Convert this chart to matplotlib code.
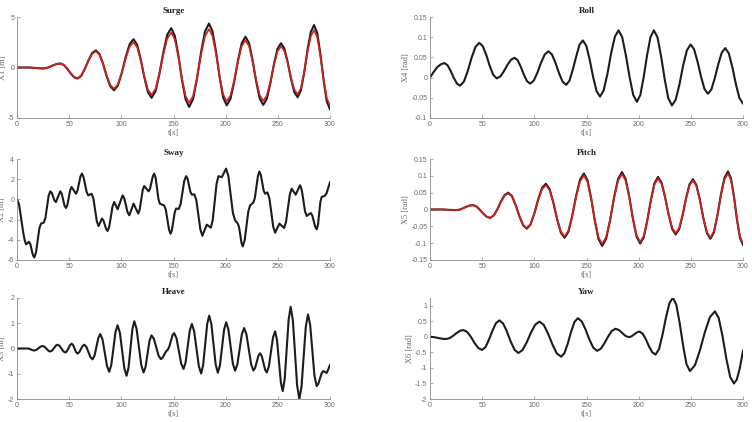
import numpy as np
import matplotlib
matplotlib.use('Agg')
import matplotlib.pyplot as plt

# time axis ticks (same on every panel)
t_ticks = [0, 50, 100, 150, 200, 250, 300]

# Surge: black = model, red = second model
surge_t = [0, 6, 12, 18.5, 25, 28.3, 31.6, 34.9, 38.2, 41.5, 44.8, 48.1, 51.4, 54.7, 58, 61.5, 65.0, 68.6, 72.1,
           75.6, 79.1, 82.6, 86.0, 89.5, 93, 96.7, 100.5, 104.2, 108.0, 111.7, 115.2, 118.6, 122.1, 125.5, 129,
           132.8, 136.5, 140.3, 144.0, 147.8, 151.2, 154.7, 158.1, 161.6, 165, 168.8, 172.6, 176.4, 180.2, 184,
           187.4, 190.8, 194.2, 197.6, 201, 204.6, 208.2, 211.8, 215.4, 219, 222.4, 225.8, 229.2, 232.6, 236,
           239.4, 242.8, 246.2, 249.6, 253, 256.2, 259.4, 262.6, 265.8, 269, 272.1, 275.3, 278.4, 281.6, 284.7,
           287.8, 290.8, 293.9, 296.9, 300]
surge_black = [0, 0, 0, -0.05, -0.1, -0.052, 0.073, 0.227, 0.352, 0.4, 0.257, -0.118, -0.582, -0.957, -1.1,
               -0.833, -0.133, 0.733, 1.433, 1.7, 1.323, 0.335, -0.885, -1.873, -2.25, -1.768, -0.505, 1.055,
               2.318, 2.8, 2.246, 0.796, -0.996, -2.446, -3.0, -2.341, -0.616, 1.516, 3.241, 3.9, 3.155, 1.205,
               -1.205, -3.155, -3.9, -3.112, -1.05, 1.5, 3.562, 4.35, 3.576, 1.551, -0.951, -2.976, -3.75,
               -3.101, -1.401, 0.701, 2.401, 3.05, 2.405, 0.718, -1.368, -3.055, -3.7, -3.117, -1.592, 0.292,
               1.817, 2.4, 1.889, 0.552, -1.102, -2.439, -2.95, -2.267, -0.48, 1.73, 3.517, 4.2, 3.403, 1.315,
               -1.265, -3.353, -4.15]
surge_red = [0, 0, 0, -0.05, -0.1, -0.052, 0.073, 0.227, 0.352, 0.4, 0.262, -0.101, -0.549, -0.912, -1.05,
             -0.797, -0.134, 0.684, 1.347, 1.6, 1.247, 0.322, -0.822, -1.747, -2.1, -1.661, -0.511, 0.911,
             2.061, 2.5, 2.003, 0.703, -0.903, -2.203, -2.7, -2.113, -0.575, 1.325, 2.863, 3.45, 2.786, 1.049,
             -1.099, -2.836, -3.5, -2.803, -0.978, 1.278, 3.103, 3.8, 3.117, 1.33, -0.88, -2.667, -3.35,
             -2.772, -1.26, 0.61, 2.122, 2.7, 2.127, 0.627, -1.227, -2.727, -3.3, -2.784, -1.434, 0.234,
             1.584, 2.1, 1.646, 0.459, -1.009, -2.196, -2.65, -2.044, -0.456, 1.506, 3.094, 3.7, 2.989, 1.126,
             -1.176, -3.039, -3.75]

# Pitch
pitch_t = [0, 6, 12, 18.5, 25, 28.2, 31.4, 34.6, 37.8, 41, 44.3, 47.6, 51.0, 54.3, 57.6, 61.1, 64.6, 68.0, 71.5,
           75, 78.6, 82.1, 85.7, 89.2, 92.8, 96.4, 100.1, 103.7, 107.4, 111, 114.6, 118.2, 121.8, 125.4, 129,
           132.7, 136.4, 140.1, 143.8, 147.5, 151.0, 154.5, 158.0, 161.5, 165, 168.8, 172.6, 176.4, 180.2, 184,
           187.5, 191.0, 194.5, 198.0, 201.5, 204.9, 208.3, 211.7, 215.1, 218.5, 221.9, 225.3, 228.7, 232.1,
           235.5, 238.8, 242.1, 245.4, 248.7, 252, 255.3, 258.7, 262.0, 265.4, 268.7, 272.1, 275.5, 278.8,
           282.2, 285.6, 288.5, 291.4, 294.2, 297.1, 300]
pitch_black = [0, 0, 0, -0.001, -0.002, -0.0006, 0.0032, 0.0078, 0.0116, 0.013, 0.0094, -0.0001, -0.0119,
               -0.0214, -0.025, -0.0178, 0.0009, 0.0241, 0.0428, 0.05, 0.0398, 0.013, -0.02, -0.0468, -0.057,
               -0.0443, -0.0109, 0.0304, 0.0638, 0.0765, 0.0612, 0.021, -0.0285, -0.0687, -0.084, -0.0658,
               -0.018, 0.041, 0.0888, 0.107, 0.0865, 0.0327, -0.0337, -0.0875, -0.108, -0.0871, -0.0323, 0.0353,
               0.0901, 0.111, 0.0908, 0.0378, -0.0278, -0.0808, -0.101, -0.0821, -0.0328, 0.0283, 0.0776,
               0.0965, 0.0802, 0.0376, -0.0151, -0.0577, -0.074, -0.0583, -0.0173, 0.0333, 0.0743, 0.09,
               0.0731, 0.0288, -0.0258, -0.0701, -0.087, -0.0679, -0.0179, 0.0439, 0.0939, 0.113, 0.0922,
               0.0377, -0.0297, -0.0842, -0.105]
pitch_red = [0, 0, 0, -0.001, -0.002, -0.0006, 0.0032, 0.0078, 0.0116, 0.013, 0.0094, -0.0001, -0.0119,
             -0.0214, -0.025, -0.018, 0.0002, 0.0228, 0.041, 0.048, 0.0382, 0.0124, -0.0194, -0.0452, -0.055,
             -0.0429, -0.0111, 0.0281, 0.0599, 0.072, 0.0575, 0.0195, -0.0275, -0.0655, -0.08, -0.0627,
             -0.0175, 0.0385, 0.0837, 0.101, 0.0816, 0.0309, -0.0319, -0.0826, -0.102, -0.0822, -0.0305,
             0.0335, 0.0852, 0.105, 0.0858, 0.0356, -0.0266, -0.0768, -0.096, -0.0781, -0.0312, 0.0267,
             0.0736, 0.0915, 0.0761, 0.0357, -0.0142, -0.0546, -0.07, -0.0551, -0.0161, 0.0321, 0.0711, 0.086,
             0.0699, 0.0276, -0.0246, -0.0669, -0.083, -0.0649, -0.0174, 0.0414, 0.0889, 0.107, 0.0872,
             0.0355, -0.0285, -0.0802, -0.1]

# Roll
roll_t = [0, 3.5, 7, 10.5, 13.8, 16.8, 19.8, 22.8, 25.8, 28.8, 32.5, 36.2, 39.9, 43.6, 47.3, 50.6, 54.0, 57.3,
          60.7, 64, 67.4, 70.8, 74.2, 77.6, 81, 84, 87, 90, 93, 96, 99.5, 103, 106.5, 110, 113.5, 116.9, 120.3,
          123.7, 127.1, 130.5, 133.7, 136.9, 140.1, 143.3, 146.5, 149.8, 153.1, 156.4, 159.7, 163, 166.5, 170.1,
          173.6, 177.2, 180.7, 184.2, 187.7, 191.3, 194.8, 198.3, 201.6, 204.8, 208.1, 211.3, 214.6, 218.1,
          221.5, 225.0, 228.4, 231.9, 235.5, 239.1, 242.6, 246.2, 249.8, 253.1, 256.4, 259.8, 263.1, 266.4,
          269.7, 273.0, 276.4, 279.7, 283, 286.4, 289.8, 293.2, 296.6, 300]
roll_x4 = [0, 0.014, 0.026, 0.033, 0.036, 0.0307, 0.0167, -0.0007, -0.0147, -0.02, -0.0099, 0.0166, 0.0494,
           0.0759, 0.086, 0.0776, 0.0556, 0.0284, 0.0064, -0.002, 0.0029, 0.0156, 0.0314, 0.0441, 0.049, 0.0429,
           0.0269, 0.0071, -0.0089, -0.015, -0.0074, 0.0126, 0.0374, 0.0574, 0.065, 0.0571, 0.0363, 0.0107,
           -0.0101, -0.018, -0.0075, 0.02, 0.052, 0.0815, 0.092, 0.0787, 0.044, 0.001, -0.0337, -0.047,
           -0.0313, 0.0097, 0.0603, 0.1013, 0.117, 0.1001, 0.0558, 0.0012, -0.0431, -0.06, -0.0431, 0.0012,
           0.0558, 0.1001, 0.117, 0.0992, 0.0527, -0.0047, -0.0512, -0.069, -0.0546, -0.0168, 0.0298, 0.0676,
           0.082, 0.0703, 0.0398, 0.0021, -0.0283, -0.04, -0.0292, -0.001, 0.034, 0.0622, 0.073, 0.0599,
           0.0257, -0.0167, -0.0509, -0.064]

# Yaw
yaw_t = [0, 3.1, 6.2, 9.2, 12.3, 15.4, 18.7, 22.0, 25.4, 28.7, 32, 35.6, 39.2, 42.7, 46.3, 49.9, 53.2, 56.5,
         59.9, 63.2, 66.5, 70.1, 73.8, 77.4, 81.1, 84.7, 88.7, 92.8, 96.8, 100.9, 104.9, 109.1, 113.2, 117.4,
         121.5, 125.7, 128.9, 132.1, 135.3, 138.5, 141.7, 145.4, 149.1, 152.8, 156.5, 160.2, 163.7, 167.2,
         170.8, 174.3, 177.8, 181.0, 184.2, 187.4, 190.6, 193.2, 195.7, 198.3, 200.8, 203.9, 207.0, 210.0,
         213.1, 216.2, 219.5, 222.8, 226.2, 229.5, 232.8, 236.1, 239.3, 242.6, 245.8, 249.1, 253.9, 258.7,
         263.5, 268.3, 273.1, 276.7, 280.4, 284.0, 287.7, 291.3, 294, 297, 300]
yaw_x6 = [0, -0.0067, -0.0242, -0.0458, -0.0633, -0.07, -0.0423, 0.0302, 0.1198, 0.1923, 0.22, 0.1589, -0.0011,
          -0.1989, -0.3589, -0.42, -0.3293, -0.0918, 0.2018, 0.4393, 0.53, 0.4297, 0.1672, -0.1572, -0.4197,
          -0.52, -0.4235, -0.171, 0.141, 0.3935, 0.49, 0.3821, 0.0996, -0.2496, -0.5321, -0.64, -0.5216,
          -0.2116, 0.1716, 0.4816, 0.6, 0.4997, 0.2372, -0.0872, -0.3497, -0.45, -0.3822, -0.2047, 0.0147,
          0.1922, 0.26, 0.2206, 0.125, 0.0294, -0.01, 0.0163, 0.08, 0.1437, 0.17, 0.0993, -0.0857, -0.3143,
          -0.4993, -0.57, -0.3952, 0.0623, 0.6277, 1.0852, 1.26, 1.0346, 0.4446, -0.2846, -0.8746, -1.1,
          -0.9166, -0.4366, 0.1566, 0.6366, 0.82, 0.6084, 0.0184, -0.6984, -1.2884, -1.5, -1.38, -1.0, -0.45]

# Heave
heave_t = [0, 5, 10, 11.7, 13.3, 15.0, 16.6, 18.6, 20.6, 22.6, 24.6, 26.4, 28.3, 30.1, 31.9, 33.7, 35.4, 37.2,
           38.9, 40.8, 42.6, 44.5, 46.3, 47.8, 49.4, 50.9, 52.4, 53.8, 55.2, 56.6, 58, 59.6, 61.3, 62.9, 64.5,
           66.5, 68.5, 70.4, 72.4, 74.3, 76.1, 78.0, 79.8, 82.0, 84.1, 86.3, 88.4, 90.4, 92.4, 94.4, 96.4, 98.6,
           100.7, 102.9, 105, 106.9, 108.7, 110.6, 112.4, 114.6, 116.9, 119.1, 121.3, 123.2, 125.1, 127.0,
           128.9, 131.2, 133.4, 135.7, 137.9, 139.6, 141.2, 142.9, 144.5, 146.0, 147.6, 149.1, 150.6, 152.9,
           155.1, 157.4, 159.6, 161.6, 163.6, 165.6, 167.6, 169.8, 172.1, 174.3, 176.5, 178.4, 180.4, 182.3,
           184.2, 186.3, 188.4, 190.4, 192.5, 194.5, 196.5, 198.5, 200.5, 202.6, 204.8, 206.9, 209, 211.2,
           213.4, 215.5, 217.7, 219.9, 222.2, 224.4, 226.6, 228.2, 229.8, 231.4, 233, 234.6, 236.2, 237.8,
           239.4, 241.4, 243.4, 245.4, 247.4, 249.2, 251.1, 252.9, 254.7, 256.6, 258.5, 260.4, 262.3, 264.4,
           266.5, 268.5, 270.6, 272.7, 274.8, 276.8, 278.9, 281.0, 283.1, 285.1, 287.2, 288.8, 290.4, 292.0,
           293.6, 295.2, 296.8, 298.4, 300]
heave_x3 = [0, 0, 0, -0.012, -0.04, -0.068, -0.08, -0.054, 0.01, 0.074, 0.1, 0.068, -0.01, -0.088, -0.12,
            -0.081, 0.015, 0.111, 0.15, 0.105, -0.005, -0.115, -0.16, -0.109, 0.015, 0.139, 0.19, 0.133,
            -0.005, -0.143, -0.2, -0.149, -0.025, 0.099, 0.15, 0.065, -0.14, -0.345, -0.43, -0.284, 0.07,
            0.424, 0.57, 0.352, -0.175, -0.702, -0.92, -0.651, 0.0, 0.651, 0.92, 0.628, -0.08, -0.788, -1.08,
            -0.765, 0.0, 0.765, 1.08, 0.784, 0.065, -0.654, -0.95, -0.735, -0.215, 0.305, 0.52, 0.383, 0.05,
            -0.283, -0.42, -0.36, -0.24, -0.11, -0.05, 0.08, 0.32, 0.53, 0.61, 0.403, -0.1, -0.603, -0.81,
            -0.55, 0.08, 0.71, 0.97, 0.684, -0.01, -0.704, -0.99, -0.656, 0.155, 0.966, 1.3, 0.97, 0.17, -0.63,
            -0.96, -0.668, 0.04, 0.748, 1.04, 0.76, 0.08, -0.6, -0.88, -0.633, -0.035, 0.563, 0.81, 0.565,
            -0.03, -0.625, -0.87, -0.771, -0.53, -0.289, -0.19, -0.301, -0.57, -0.839, -0.95, -0.712, -0.135,
            0.442, 0.68, 0.334, -0.505, -1.344, -1.69, -1.202, -0.02, 1.162, 1.65, 1.117, -0.175, -1.467, -2.0,
            -1.511, -0.325, 0.861, 1.35, 0.935, -0.07, -1.075, -1.49, -1.402, -1.19, -0.978, -0.89, -0.93,
            -0.97, -0.82, -0.65]

# Sway
sway_t = [0, 2, 4, 6, 7.5, 8.8, 10.1, 11.5, 12.8, 14.0, 15.3, 16.6, 18.2, 19.8, 21.4, 23, 24.3, 25.6, 27.2,
          28.8, 30.3, 31.9, 33.3, 34.6, 35.9, 37.3, 39.4, 41.5, 42.9, 44.2, 45.5, 46.9, 48.3, 49.6, 51.0, 52.3,
          54.4, 56.5, 57.9, 59.4, 60.8, 62.2, 63.7, 65.3, 66.8, 68.3, 69.9, 71.5, 73.2, 74.9, 76.5, 78.2, 79.8,
          81.4, 82.8, 84.1, 85.5, 86.8, 88.4, 90.0, 91.6, 93.2, 94.8, 96.4, 98.8, 101.2, 102.8, 104.4, 106.0,
          107.6, 109.7, 111.7, 114.0, 116.2, 117.6, 119.1, 120.5, 121.9, 124.0, 126.1, 127.5, 128.8, 130.2,
          131.5, 132.9, 134.2, 135.6, 136.9, 139, 141, 142.6, 144.1, 145.7, 147.2, 148.5, 149.9, 151.2, 152.5,
          153.8, 155, 156.8, 158.6, 160.3, 162.1, 163.5, 164.9, 166.2, 167.6, 168.8, 170, 171.9, 173.9, 175.8,
          177.7, 179.8, 181.9, 183.9, 185.8, 187.6, 189.5, 191.3, 193.1, 194.7, 196.3, 198.4, 200.4, 202.6,
          204.7, 206.9, 209, 210.3, 211.6, 212.8, 214.0, 215.2, 216.4, 218.2, 219.9, 221.7, 223.4, 225, 226.6,
          228.0, 229.5, 230.9, 232.3, 233.7, 235.1, 236.4, 237.8, 238.9, 240, 241.9, 243.7, 245.6, 247.4,
          249.5, 251.5, 253.8, 256, 257.8, 259.7, 261.5, 263.3, 265.2, 267.1, 269.2, 271.3, 272.9, 274.5,
          276.1, 277.7, 279.6, 281.5, 283.0, 284.4, 285.9, 287.3, 288.5, 289.7, 290.8, 292, 293.5, 295, 296.7,
          298.3, 300]
sway_x2 = [0, -0.5, -1.9, -3.3, -4.1, -4.45, -4.33, -4.2, -4.43, -4.98, -5.52, -5.75, -5.26, -4.08, -2.89, -2.4,
           -2.35, -2.3, -1.85, -0.75, 0.35, 0.8, 0.645, 0.27, -0.105, -0.26, 0.27, 0.8, 0.559, -0.025, -0.609,
           -0.85, -0.546, 0.19, 0.926, 1.23, 0.895, 0.56, 0.851, 1.555, 2.259, 2.55, 2.236, 1.475, 0.714, 0.4,
           0.48, 0.56, 0.093, -1.04, -2.173, -2.64, -2.27, -1.9, -2.08, -2.515, -2.95, -3.13, -2.711, -1.695,
           -0.679, -0.26, -0.62, -0.98, -0.29, 0.4, 0.112, -0.585, -1.282, -1.57, -1.0, -0.42, -0.91, -1.4,
           -1.001, -0.035, 0.931, 1.33, 1.065, 0.8, 1.056, 1.675, 2.295, 2.55, 2.116, 1.065, 0.014, -0.42,
           -0.51, -0.6, -1.009, -2.0, -2.991, -3.4, -3.035, -2.15, -1.265, -0.9, -0.93, -0.95, -0.475, 0.675,
           1.826, 2.3, 2.033, 1.385, 0.737, 0.47, 0.485, 0.5, -0.099, -1.55, -3.001, -3.6, -3.05, -2.5, -2.65,
           -2.8, -2.055, -0.25, 1.555, 2.3, 2.25, 2.2, 2.625, 3.05, 2.302, 0.49, -1.322, -2.07, -2.235, -2.4,
           -2.73, -3.525, -4.32, -4.65, -4.059, -2.625, -1.191, -0.6, -0.45, -0.3, 0.145, 1.225, 2.305, 2.75,
           2.43, 1.655, 0.88, 0.56, 0.63, 0.7, 0.116, -1.3, -2.716, -3.3, -2.85, -2.4, -2.615, -2.83, -2.262,
           -0.885, 0.492, 1.06, 0.765, 0.47, 0.935, 1.4, 0.956, -0.12, -1.196, -1.64, -1.495, -1.35, -1.585,
           -2.155, -2.725, -2.96, -2.493, -1.36, -0.227, 0.24, 0.3, 0.35, 0.6, 1.15, 1.7]

# y ticks per panel
surge_yticks = [-5, 0, 5]
sway_yticks = [-6, -4, -2, 0, 2, 4]
heave_yticks = [-2, -1, 0, 1, 2]
roll_yticks = [-0.1, -0.05, 0, 0.05, 0.1, 0.15]
pitch_yticks = [-0.15, -0.1, -0.05, 0, 0.05, 0.1, 0.15]
yaw_yticks = [-2, -1.5, -1, -0.5, 0, 0.5, 1]

BLACK = '#1c1c1c'
RED = '#d8201e'
GREY = '#6a6a6a'
serif = 'Liberation Serif'
sans = 'Liberation Sans'

fig = plt.figure(figsize=(7.52, 4.22), dpi=100)

# axes boxes in figure fractions (left, bottom, width, height)
w = 313 / 752.
h = 101 / 422.
lefts = [17 / 752., 430 / 752.]
bottoms = [1 - 118 / 422., 1 - 260 / 422., 1 - 399 / 422.]


def style(ax, title, ylabel, yticks, ylim):
    ax.set_xlim(0, 300)
    ax.set_ylim(ylim)
    ax.set_xticks(t_ticks)
    ax.set_xticklabels([str(v) for v in t_ticks])
    ax.set_yticks(yticks)
    ax.set_yticklabels(['%g' % v for v in yticks])
    for s in ['top', 'right']:
        ax.spines[s].set_visible(False)
    for s in ['left', 'bottom']:
        ax.spines[s].set_color('#8a8a8a')
        ax.spines[s].set_linewidth(0.6)
    ax.tick_params(direction='in', length=2, width=0.5, color='#8a8a8a',
                   labelsize=5, labelcolor=GREY, pad=2)
    for lab in ax.get_xticklabels() + ax.get_yticklabels():
        lab.set_family(sans)
    ax.set_title(title, fontsize=6.5, fontweight='bold', family=serif,
                 color='#222222', pad=3)
    ax.set_xlabel('t[s]', fontsize=6, family=serif, color=GREY, labelpad=1)
    ax.set_ylabel(ylabel, fontsize=6, family=serif, color=GREY, labelpad=1)


ax = fig.add_axes([lefts[0], bottoms[0], w, h])
ax.plot(surge_t, surge_black, color=BLACK, lw=1.5)
ax.plot(surge_t, surge_red, color=RED, lw=1.2)
style(ax, 'Surge', 'X1 [m]', surge_yticks, (-5, 5))

ax = fig.add_axes([lefts[1], bottoms[0], w, h])
ax.plot(roll_t, roll_x4, color=BLACK, lw=1.5)
style(ax, 'Roll', 'X4 [rad]', roll_yticks, (-0.1, 0.15))

ax = fig.add_axes([lefts[0], bottoms[1], w, h])
ax.plot(sway_t, sway_x2, color=BLACK, lw=1.5)
style(ax, 'Sway', 'X2 [m]', sway_yticks, (-6, 4))

ax = fig.add_axes([lefts[1], bottoms[1], w, h])
ax.plot(pitch_t, pitch_black, color=BLACK, lw=1.5)
ax.plot(pitch_t, pitch_red, color=RED, lw=1.2)
style(ax, 'Pitch', 'X5 [rad]', pitch_yticks, (-0.15, 0.15))

ax = fig.add_axes([lefts[0], bottoms[2], w, h])
ax.plot(heave_t, heave_x3, color=BLACK, lw=1.5)
style(ax, 'Heave', 'X3 [m]', heave_yticks, (-2, 2))

ax = fig.add_axes([lefts[1], bottoms[2], w, h])
ax.plot(yaw_t, yaw_x6, color=BLACK, lw=1.5)
style(ax, 'Yaw', 'X6 [rad]', yaw_yticks, (-2, 1.25))

fig.savefig('out.png', dpi=100)
